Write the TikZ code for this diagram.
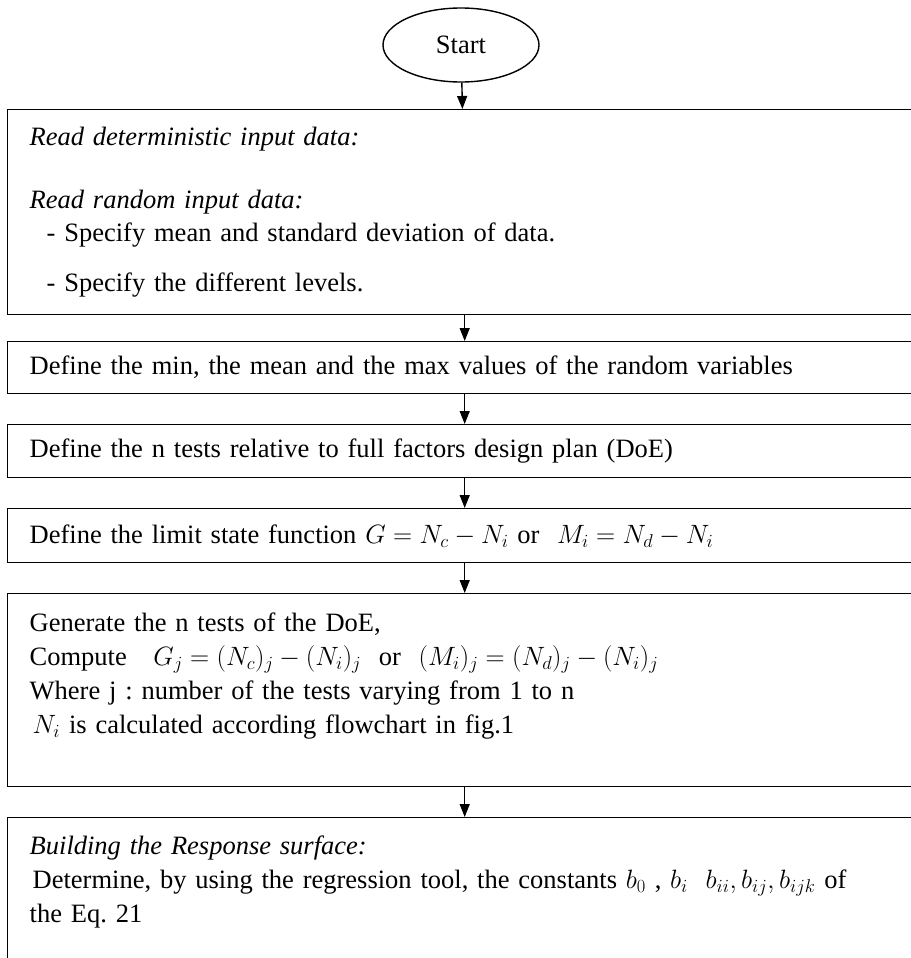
\RequirePackage{fix-cm}
\documentclass[tikz,border=0pt]{standalone}
\usepackage{fontspec}
\setmainfont{Liberation Serif}
\usetikzlibrary{arrows.meta, positioning, shapes.geometric}
\frenchspacing
\tikzset{
  stepbox/.style={draw, line width=1.4pt, anchor=north west, align=left,
    inner xsep=22pt, inner ysep=0pt, text width=870pt, font=\fontsize{26.5}{34}\selectfont},
  startnode/.style={draw, ellipse, line width=1.4pt, inner sep=0pt,
    minimum width=156pt, minimum height=74pt, font=\fontsize{26.5}{34}\selectfont},
  flow/.style={-{Triangle[length=13pt, width=10pt]}, line width=1.4pt}
}

\begin{document}
\begin{tikzpicture}[x=1pt, y=-1pt]
\useasboundingbox (0,0) rectangle (910,958);
\node[startnode] (start) at (461,45) {Start};
\node[stepbox, minimum height=205pt] (read) at (7,109)
  {\textit{Read deterministic input data:}\\[29pt]
   \textit{Read random input data:}\\[-1pt]
   \hspace*{17pt}- Specify mean and standard deviation of data.\\[16pt]
   \hspace*{17pt}- Specify the different levels.};
\node[stepbox, minimum height=52pt] (minmax) at (7,341)
  {Define the min, the mean and the max values of the random variables};
\node[stepbox, minimum height=53pt] (doe) at (7,424)
  {Define the n tests relative to full factors design plan (DoE)};
\node[stepbox, minimum height=54pt] (lsf) at (7,508)
  {Define the limit state function $G = N_c - N_i$ or \ $M_i = N_d - N_i$};
\node[stepbox, minimum height=193pt] (gen) at (7,593)
  {Generate the n tests of the DoE,\\
   Compute \ \ $G_j = (N_c)_j - (N_i)_j$ \ or \ $(M_i)_j = (N_d)_j - (N_i)_j$\\
   Where j : number of the tests varying from 1 to n\\
   \hspace*{3pt}$N_i$ is calculated according flowchart in fig.1\\[0pt]\mbox{}};
\node[stepbox, minimum height=190pt] (resp) at (7,817)
  {\textit{Building the Response surface:}\\
   \hspace*{3pt}Determine, by using the regression tool, the constants $b_0$ , $b_i$ \ $b_{ii}, b_{ij}, b_{ijk}$ of\\
   the Eq. 21\\[34pt]\mbox{}};
\draw[flow] (start) -- (read); \draw[flow] (read) -- (minmax); \draw[flow] (minmax) -- (doe);
\draw[flow] (doe) -- (lsf); \draw[flow] (lsf) -- (gen); \draw[flow] (gen) -- (resp);
\end{tikzpicture}
\end{document}
